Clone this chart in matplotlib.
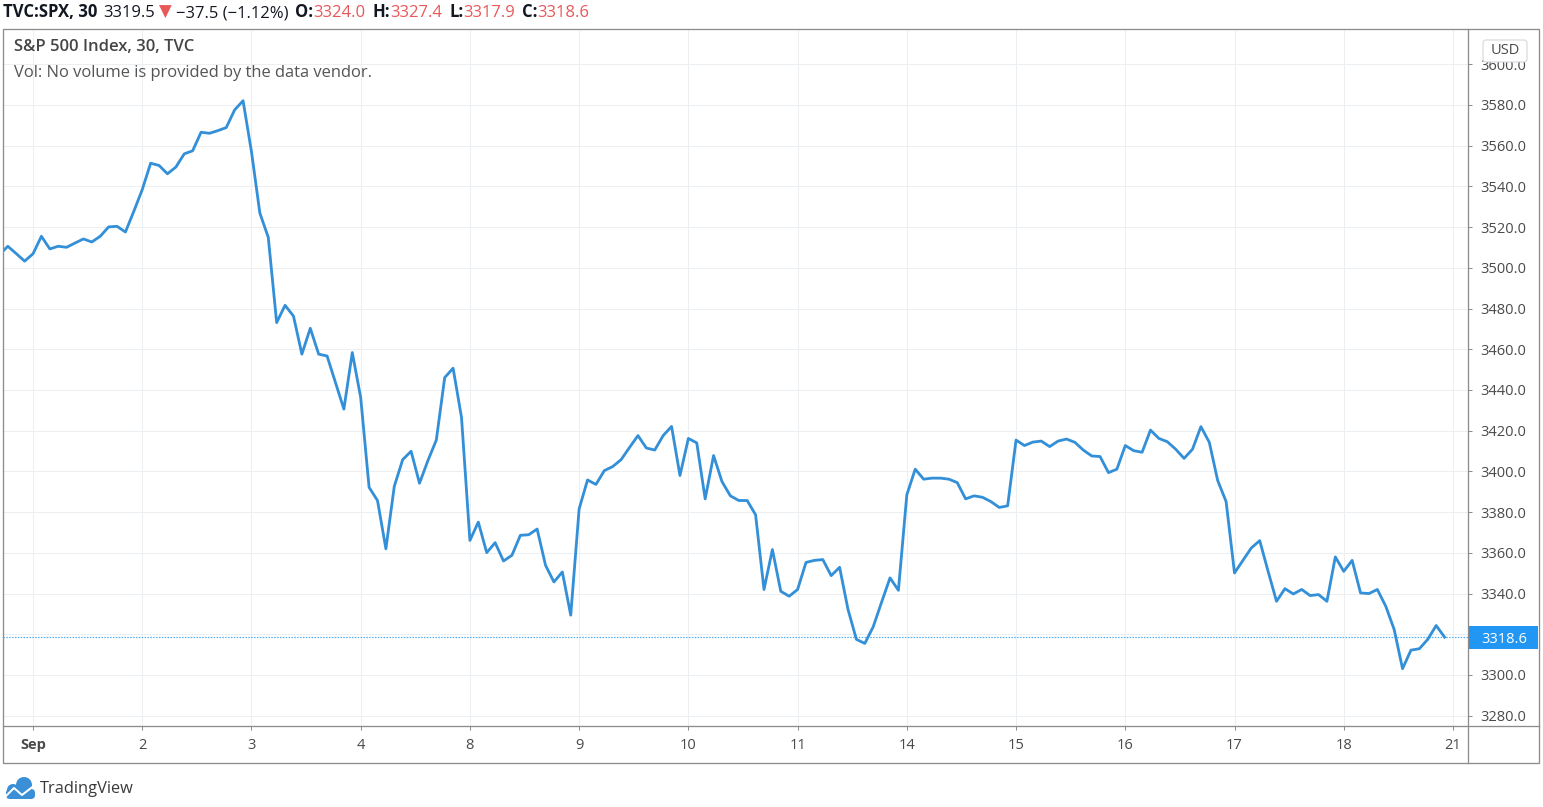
import numpy as np
import matplotlib
matplotlib.use("Agg")
import matplotlib.pyplot as plt
from matplotlib.patches import Rectangle, FancyBboxPatch, Circle

W, H = 1543, 807
PX = 72 / 100  # one pixel in points (dpi 100)

LINE_BLUE = "#3390d8"
TAG_BLUE = "#2196f3"
RED = "#e8585a"
GRID = "#eceff2"
FRAME = "#8c8c8c"
TEXT = "#4a4a4a"

# 30 minute closes, one list per session
aug31 = [3506.4, 3510.6, 3507.0, 3503.3]
sep01 = [3506.9, 3515.5, 3509.3, 3510.6, 3510.1, 3512.2, 3514.2, 3512.7, 3515.5, 3520.1, 3520.4, 3517.6, 3527.8]
sep02 = [3538.4, 3551.4, 3550.3, 3546.2, 3549.5, 3556.0, 3557.5, 3566.6, 3566.1, 3567.4, 3568.9, 3577.6, 3582.1]
sep03 = [3557.1, 3526.9, 3515.0, 3473.1, 3481.6, 3476.3, 3457.6, 3470.3, 3457.6, 3456.7, 3443.7, 3430.6, 3458.4]
sep04 = [3436.3, 3392.2, 3385.7, 3362.0, 3392.7, 3405.8, 3409.9, 3394.2, 3405.3, 3415.4, 3446.1, 3450.7, 3426.5]
sep08 = [3366.1, 3375.1, 3360.1, 3365.0, 3356.0, 3358.8, 3368.6, 3368.9, 3371.7, 3353.9, 3345.7, 3350.6, 3329.4]
sep09 = [3381.6, 3395.8, 3393.6, 3400.4, 3402.4, 3405.8, 3411.8, 3417.6, 3411.5, 3410.5, 3417.6, 3422.1, 3398.0]
sep10 = [3416.2, 3414.0, 3386.5, 3407.8, 3395.0, 3388.0, 3385.7, 3385.7, 3378.7, 3342.0, 3361.6, 3341.1, 3338.7]
sep11 = [3342.0, 3355.3, 3356.3, 3356.7, 3348.8, 3352.9, 3332.2, 3317.5, 3315.5, 3323.7, 3335.8, 3347.7, 3341.6]
sep14 = [3388.5, 3401.1, 3396.2, 3396.7, 3396.7, 3396.2, 3394.5, 3386.5, 3388.0, 3387.3, 3385.2, 3382.3, 3383.1]
sep15 = [3415.4, 3412.7, 3414.4, 3414.9, 3412.2, 3414.9, 3415.9, 3414.3, 3410.5, 3407.6, 3407.3, 3399.4, 3401.1]
sep16 = [3412.7, 3410.2, 3409.4, 3420.3, 3416.2, 3414.6, 3410.9, 3406.4, 3410.9, 3422.0, 3414.3, 3395.5, 3385.2]
sep17 = [3350.1, 3356.3, 3362.4, 3366.0, 3350.9, 3336.2, 3342.4, 3339.8, 3342.0, 3339.0, 3339.5, 3336.2, 3358.0]
sep18 = [3350.9, 3356.3, 3340.3, 3340.0, 3342.0, 3333.8, 3322.4, 3303.1, 3312.2, 3312.9, 3317.5, 3324.3, 3318.6]

sessions = [sep01, sep02, sep03, sep04, sep08, sep09, sep10, sep11, sep14, sep15, sep16, sep17, sep18]
day_labels = ["Sep", "2", "3", "4", "8", "9", "10", "11", "14", "15", "16", "17", "18", "21"]
price_ticks = np.arange(3280, 3601, 20)
last_close = 3318.6

# header line: (text, colour, weight, gap after in px)
header = [
    ("TVC:SPX, 30", "#131722", "bold", 6),
    ("3319.5", "#131722", "normal", 4),
    ("\u25bc", RED, "normal", 4),
    ("\u221237.5 (\u22121.12%)", "#131722", "normal", 7),
    ("O:", "#131722", "bold", 0),
    ("3324.0", RED, "normal", 7),
    ("H:", "#131722", "bold", 0),
    ("3327.4", RED, "normal", 7),
    ("L:", "#131722", "bold", 0),
    ("3317.9", RED, "normal", 7),
    ("C:", "#131722", "bold", 0),
    ("3318.6", RED, "normal", 0),
]

plt.rcParams["font.family"] = ["Open Sans", "DejaVu Sans"]


def box(x0, y0, x1, y1):
    """pixel box (origin top-left) -> figure rect"""
    return [x0 / W, 1 - y1 / H, (x1 - x0) / W, (y1 - y0) / H]


fig = plt.figure(figsize=(W / 100, H / 100), dpi=100)

# price pane
ax = fig.add_axes(box(3, 29, 1468, 726))
closes = [v for s in [aug31] + sessions for v in s]
bars = np.arange(len(closes)) - len(aug31)
ax.plot(bars, closes, color=LINE_BLUE, lw=2.8 * PX)
ax.axhline(last_close, color=TAG_BLUE, lw=1.2 * PX, ls=(0, (1.2, 1.2)), alpha=0.8)

ax.set_xlim(-3.571, 170.79)
ax.set_ylim(3274.94, 3617.33)
ax.set_xticks(np.arange(len(day_labels)) * 13)
ax.set_xticklabels(day_labels)
ax.get_xticklabels()[0].set_fontweight("bold")
ax.set_yticks(price_ticks)
ax.set_yticklabels(["%.1f" % v for v in price_ticks])
ax.yaxis.tick_right()
ax.tick_params(axis="y", length=3.5 * PX, width=PX, color=FRAME, pad=9 * PX,
               labelsize=10.5, labelcolor=TEXT)
ax.tick_params(axis="x", length=4 * PX, width=PX, color=FRAME, pad=8 * PX,
               labelsize=10.5, labelcolor=TEXT)
ax.grid(True, color=GRID, lw=PX)
ax.set_axisbelow(True)
for s in ax.spines.values():
    s.set_visible(False)

# overlay in pixel coordinates for frame, tags and texts
ov = fig.add_axes([0, 0, 1, 1])
ov.set_xlim(0, W)
ov.set_ylim(H, 0)
ov.axis("off")

ov.add_patch(Rectangle((3, 29), 1536, 734, fill=False, ec=FRAME, lw=1.3 * PX))
ov.plot([1468, 1468], [29, 763], color=FRAME, lw=1.3 * PX)
ov.plot([3, 1539], [726, 726], color=FRAME, lw=1.3 * PX)

# last price tag
y_tag = H - ax.transData.transform((0, last_close))[1]
ov.add_patch(Rectangle((1468.5, y_tag - 11.5), 69.5, 23, color=TAG_BLUE, lw=0))
ov.text(1481, y_tag, "%.1f" % last_close, color="white", fontsize=10.5, va="center_baseline")

# currency badge (sits over the top price label)
ov.add_patch(FancyBboxPatch((1483, 40), 44, 22, boxstyle="round,pad=0,rounding_size=3",
                            fc="white", ec="#cfd3d8", lw=PX))
ov.text(1505, 51, "USD", color=TEXT, fontsize=10.5, ha="center", va="center")

# legend
ov.text(14, 47, "S&P 500 Index, 30, TVC", color="#454545", fontsize=12,
        weight="semibold", va="center")
ov.text(14, 73, "Vol: No volume is provided by the data vendor.", color="#555555",
        fontsize=11.9, va="center")

# header, placed piece by piece
renderer = fig.canvas.get_renderer()
x = 3
for txt, col, wt, gap in header:
    t = ov.text(x, 17, txt, color=col, fontsize=12, weight=wt, va="baseline")
    x += t.get_window_extent(renderer).width + gap

# TradingView mark
logo = "#3a8fd6"
ov.add_patch(Circle((24, 785), 8, color=logo, lw=0))
ov.add_patch(Circle((13, 790), 6, color=logo, lw=0))
ov.add_patch(FancyBboxPatch((6, 789), 29, 10, boxstyle="round,pad=0,rounding_size=4",
                            color=logo, lw=0))
ov.plot([5, 14, 22, 35], [797, 788, 795, 785], color="white", lw=2 * PX,
        solid_capstyle="butt")
ov.text(40, 789, "TradingView", color="#3a3a3a", fontsize=11.8, va="center")

fig.savefig("out.png", dpi=100)
